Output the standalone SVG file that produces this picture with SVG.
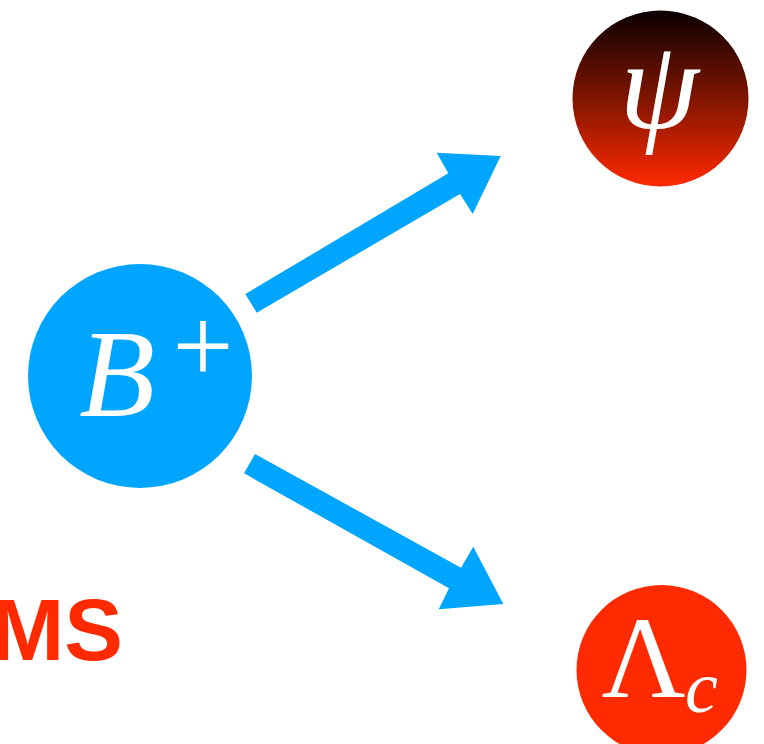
<svg xmlns="http://www.w3.org/2000/svg" width="764" height="744" viewBox="0 0 764 744">
<defs>
<linearGradient id="psiGrad" x1="0" y1="0" x2="0" y2="1">
<stop offset="0" stop-color="#0a0000"/>
<stop offset="0.5" stop-color="#801500"/>
<stop offset="1" stop-color="#ff2a00"/>
</linearGradient>
<style>
.arrow{fill:#00a5ff;stroke:none}
.lbl{fill:#ffffff;font-family:"Liberation Serif","DejaVu Serif",serif}
.it{font-style:italic}
</style>
</defs>
<rect width="764" height="744" fill="#ffffff"/>
<g id="connectors">
<polygon class="arrow" points="245.3,294 448.3,173.3 436.7,152.7 500.7,156 472.7,214 460,194 256.7,312.7"/>
<polygon class="arrow" points="255,454 461,567.7 473.3,546.7 503.3,604 438.7,609.3 449,588.3 244,473.3"/>
</g>
<g id="node-B">
<circle cx="140" cy="376" r="112" fill="#00a5ff"/>
<text class="lbl it" x="117" y="416" font-size="124" text-anchor="middle">B</text>
<text class="lbl" x="203" y="382" font-size="108" text-anchor="middle">+</text>
</g>
<g id="node-psi">
<circle cx="660.5" cy="98.5" r="88" fill="url(#psiGrad)"/>
<text class="lbl it" x="659" y="128" font-size="128" text-anchor="middle">ψ</text>
</g>
<g id="node-lambda">
<circle cx="661.5" cy="670" r="85" fill="#ff2a00"/>
<text class="lbl" x="643.5" y="697" font-size="116" text-anchor="middle">Λ</text>
<text class="lbl it" x="701.5" y="712" font-size="74" text-anchor="middle">c</text>
</g>
<g id="label-MS">
<text x="123" y="660" font-size="88" font-weight="bold" fill="#ff2a00" text-anchor="end" font-family="'Liberation Sans',Arial,sans-serif">MS</text>
</g>
</svg>
